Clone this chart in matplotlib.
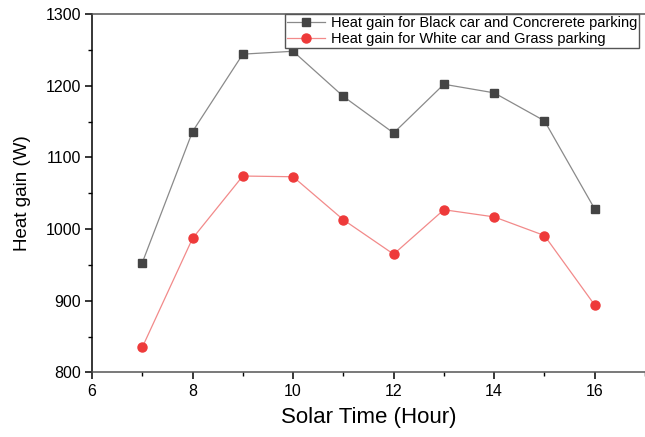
import matplotlib
matplotlib.use("Agg")
import matplotlib.pyplot as plt
from matplotlib.ticker import MultipleLocator

# Solar time (hour)
hours = [7, 8, 9, 10, 11, 12, 13, 14, 15, 16]
# Heat gain (W)
black_concrete = [953, 1136, 1244, 1248, 1185, 1134, 1202, 1190, 1151, 1028]
white_grass = [835, 987, 1074, 1073, 1013, 965, 1027, 1017, 991, 894]

labels = ["Heat gain for Black car and Concrerete parking",
          "Heat gain for White car and Grass parking"]

plt.rcParams['font.family'] = ['Liberation Sans', 'DejaVu Sans']

fig = plt.figure(figsize=(6.45, 4.37), dpi=100)
ax = fig.add_axes([0.1426, 0.1476, 0.8574, 0.8204])

ax.plot(hours, black_concrete, color='#8a8a8a', linewidth=0.9,
        marker='s', markersize=6, markerfacecolor='#444444',
        markeredgecolor='#444444', label=labels[0])
ax.plot(hours, white_grass, color='#f28a8a', linewidth=0.9,
        marker='o', markersize=6.5, markerfacecolor='#ee3a3a',
        markeredgecolor='#ee3a3a', label=labels[1])

ax.set_xlim(6, 17)
ax.set_ylim(800, 1300)
ax.xaxis.set_major_locator(MultipleLocator(2))
ax.xaxis.set_minor_locator(MultipleLocator(1))
ax.yaxis.set_major_locator(MultipleLocator(100))
ax.yaxis.set_minor_locator(MultipleLocator(50))

ax.tick_params(which='major', direction='out', length=5, width=1.1,
               labelsize=11.5, pad=3)
ax.tick_params(which='minor', direction='out', length=3, width=1.0)

for side in ['left', 'bottom', 'top']:
    ax.spines[side].set_linewidth(1.1)
ax.spines['bottom'].set_color('#555555')
ax.spines['top'].set_color('#555555')
ax.spines['right'].set_visible(False)

ax.set_xlabel('Solar Time (Hour)', fontsize=16, labelpad=6)
ax.set_ylabel('Heat gain (W)', fontsize=13.5, labelpad=10)

leg = ax.legend(loc='upper right', bbox_to_anchor=(0.99, 1.0),
                borderaxespad=0, fontsize=10.5, fancybox=False,
                framealpha=1, edgecolor='#555555', handlelength=2.6,
                borderpad=0.15, labelspacing=0.1, handletextpad=0.4)
leg.get_frame().set_linewidth(1.0)

fig.savefig('out.png', dpi=100)
